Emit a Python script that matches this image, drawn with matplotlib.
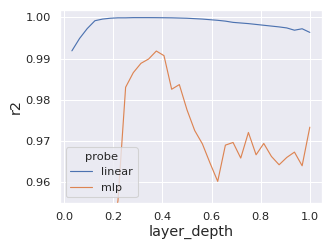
import matplotlib
matplotlib.use("Agg")
import matplotlib.pyplot as plt
import numpy as np
import pandas as pd
import seaborn as sns

# layer depth = layer index / 32
layer_depth = [k / 32 for k in range(1, 33)]

linear_r2 = [0.9919, 0.9949, 0.9973, 0.9992, 0.9996, 0.9998, 0.9999, 0.9999,
             0.99995, 0.99995, 0.99995, 0.99994, 0.99992, 0.9999, 0.99985, 0.9998,
             0.9997, 0.9996, 0.99945, 0.9993, 0.9991, 0.9988, 0.99865, 0.9985,
             0.9983, 0.9981, 0.9979, 0.9977, 0.99745, 0.9969, 0.99725, 0.99637]

# first few mlp layers fall below the visible range
mlp_r2 = [0.920, 0.925, 0.930, 0.935, 0.940, 0.945, 0.9555, 0.98306,
          0.98661, 0.98887, 0.98992, 0.99185, 0.99073, 0.98258, 0.98371, 0.97758,
          0.97258, 0.96935, 0.96468, 0.96024, 0.96903, 0.96968, 0.96589, 0.97210,
          0.96669, 0.96944, 0.96629, 0.96427, 0.96605, 0.96734, 0.96403, 0.97339]

df = pd.DataFrame({
    "layer_depth": layer_depth * 2,
    "r2": linear_r2 + mlp_r2,
    "probe": ["linear"] * len(layer_depth) + ["mlp"] * len(layer_depth),
})

sns.set_theme(context="talk", style="darkgrid", rc={
    "xtick.labelsize": 16,
    "ytick.labelsize": 16,
    "axes.labelsize": 20,
    "legend.fontsize": 15.5,
    "legend.title_fontsize": 16,
    "lines.linewidth": 1.6,
})

fig, ax = plt.subplots(figsize=(6.4, 4.8), dpi=51.875)
fig.subplots_adjust(left=60 / 332, right=321.7 / 332, bottom=1 - 203 / 249, top=1 - 10 / 249)

sns.lineplot(data=df, x="layer_depth", y="r2", hue="probe", ax=ax)
ax.set_ylim(0.955, 1.0018)
ax.legend(title="probe", loc="lower left")

fig.savefig("out.png", dpi=51.875)
